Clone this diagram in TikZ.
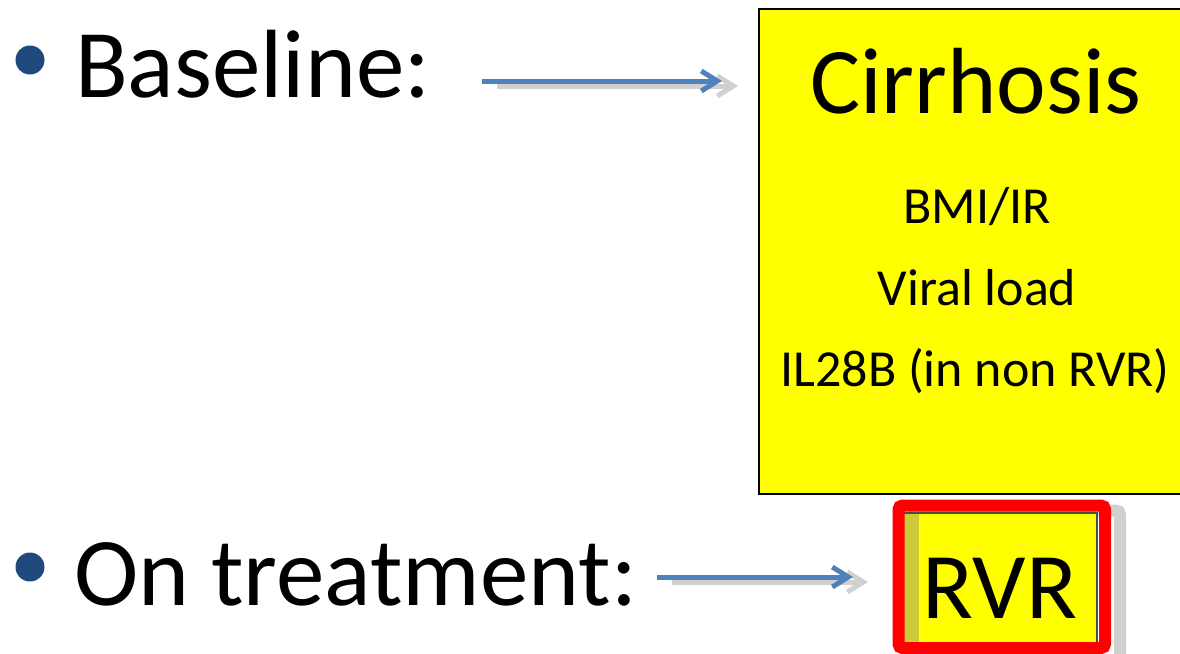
\documentclass[tikz,border=0pt]{standalone}
\usepackage{fontspec}
\setmainfont{Carlito}
\usetikzlibrary{arrows.meta}
\definecolor{bulletblue}{HTML}{1F497D}
\definecolor{arrowblue}{HTML}{4F81BD}
\definecolor{shadowgray}{HTML}{D0D0D0}
\definecolor{stripolive}{HTML}{CDCB3A}
\definecolor{boxyellow}{HTML}{FFFF00}
\begin{document}
\begin{tikzpicture}[x=1pt,y=-1pt,
  bigtext/.style={font=\fontsize{94}{94}\selectfont, inner sep=0pt, anchor=base},
  bullettext/.style={font=\fontsize{97}{97}\selectfont, inner sep=0pt, anchor=base west},
  smalltext/.style={font=\fontsize{52}{52}\selectfont, inner sep=0pt, anchor=base},
  bulletdot/.style={circle, fill=bulletblue, inner sep=0pt, minimum size=29pt},
  bluearrow/.style={draw=arrowblue, line width=5pt, -{Straight Barb[length=16pt,width=20pt,line width=5pt]}},
  shadowarrow/.style={draw=shadowgray, line width=5pt, -{Straight Barb[length=16pt,width=20pt,line width=5pt]}},
]
\useasboundingbox (0,0) rectangle (1180,653);

% bullets and labels
\node[bulletdot] (b1) at (30,60) {};
\node[bullettext] (baseline) at (75,97) {Baseline:};
\node[bulletdot] (b2) at (30,567) {};
\node[bullettext] (ontreat) at (74,605) {On treatment:};

% big yellow box
\node[draw=black, line width=2pt, fill=boxyellow, anchor=north west,
      minimum width=440pt, minimum height=485pt, inner sep=0pt] (cirbox) at (758,8) {};
\node[bigtext] (cirr) at (976,113) {Cirrhosis};
\node[smalltext] (bmi) at (977,223) {BMI/IR};
\node[smalltext] (viral) at (977,305) {Viral load};
\node[smalltext] (il28) at (975,386) {IL28B (in non RVR)};

% arrow 1
\coordinate (a1s) at (482,81);
\coordinate (a1e) at (722,81);
\coordinate (a1ss) at (497,86);
\coordinate (a1se) at (738,86);
\draw[shadowarrow] (a1ss) -- (a1se);
\draw[bluearrow] (a1s) -- (a1e);

% arrow 2
\coordinate (a2s) at (657,577);
\coordinate (a2e) at (853,577);
\coordinate (a2ss) at (672,582);
\coordinate (a2se) at (868,582);
\draw[shadowarrow] (a2ss) -- (a2se);
\draw[bluearrow] (a2s) -- (a2e);

% RVR box
\draw[shadowgray, line width=12pt, rounded corners=4pt] (913.5,510.5) rectangle (1120,663);
\fill[boxyellow] (904,512) rectangle (1098,643);
\fill[stripolive] (904,512) rectangle (919,643);
\draw[black!70, line width=1.2pt] (904,513) -- (1097,513) -- (1097,643);
\node[draw=red, line width=12pt, rounded corners=4pt, inner sep=0pt,
      minimum width=206.5pt, minimum height=142.5pt] (rvrframe) at (1001.75,576.75) {};
\node[bigtext] (rvr) at (1000,618) {RVR};
\end{tikzpicture}
\end{document}
